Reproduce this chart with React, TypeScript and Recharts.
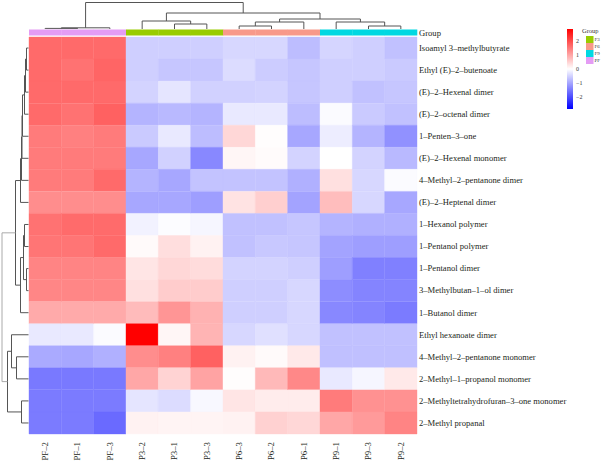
import React from 'react';
import { BarChart, Bar, XAxis, YAxis, Cell } from 'recharts';

const compounds = [
  'Isoamyl 3–methylbutyrate',
  'Ethyl (E)–2–butenoate',
  '(E)–2–Hexenal dimer',
  '(E)–2–octenal dimer',
  '1–Penten–3–one',
  '(E)–2–Hexenal monomer',
  '4–Methyl–2–pentanone dimer',
  '(E)–2–Heptenal dimer',
  '1–Hexanol polymer',
  '1–Pentanol polymer',
  '1–Pentanol dimer',
  '3–Methylbutan–1–ol dimer',
  '1–Butanol dimer',
  'Ethyl hexanoate dimer',
  '4–Methyl–2–pentanone monomer',
  '2–Methyl–1–propanol monomer',
  '2–Methyltetrahydrofuran–3–one monomer',
  '2–Methyl propanal',
];

const samples = ['PF–2', 'PF–1', 'PF–3', 'P3–2', 'P3–1', 'P3–3', 'P6–3', 'P6–2', 'P6–1', 'P9–1', 'P9–3', 'P9–2'];
const sampleGroups = ['PF', 'PF', 'PF', 'F3', 'F3', 'F3', 'F6', 'F6', 'F6', 'F9', 'F9', 'F9'];
const groupNames = ['F3', 'F6', 'F9', 'PF'];
const groupColors: Record<string, string> = { F3: '#99cc00', F6: '#f8998a', F9: '#00d8e2', PF: '#e49cf4' };
const legendTicks = [2, 1, 0, -1, -2];
const colorLimit = 2.9;

// z-scores, rows = compounds, columns = samples
const zScores: number[][] = [
  [1.7, 1.7, 1.7, -0.55, -0.55, -0.55, -0.45, -0.45, -0.75, -0.48, -0.55, -0.7],
  [1.7, 1.6, 1.75, -0.55, -0.65, -0.65, -0.4, -0.58, -0.65, -0.55, -0.55, -0.6],
  [1.7, 1.7, 1.7, -0.5, -0.3, -0.52, -0.52, -0.5, -0.65, -0.55, -0.7, -0.65],
  [1.7, 1.6, 1.8, -0.85, -0.8, -0.85, -0.25, -0.25, -0.75, -0.05, -0.6, -0.7],
  [1.5, 1.45, 1.5, -0.6, -0.25, -0.75, 0.45, 0.02, -1.0, -0.2, -0.85, -1.25],
  [1.5, 1.5, 1.5, -1.0, -0.52, -1.35, 0.1, 0.05, -0.5, 0.0, -0.5, -0.8],
  [1.5, 1.5, 1.7, -0.85, -1.0, -0.68, -0.68, -0.68, -0.9, 0.35, -0.45, -0.05],
  [1.3, 1.3, 1.3, -1.0, -1.0, -1.1, 0.32, 0.55, -1.05, 0.75, -0.45, -1.0],
  [1.6, 1.68, 1.68, -0.15, -0.03, -0.1, -0.7, -0.7, -0.65, -0.85, -0.9, -0.9],
  [1.57, 1.57, 1.7, 0.06, 0.37, 0.15, -0.7, -0.62, -0.65, -1.05, -1.1, -1.1],
  [1.4, 1.4, 1.4, 0.3, 0.45, 0.4, -0.5, -0.5, -0.55, -1.1, -1.45, -1.45],
  [1.38, 1.38, 1.38, 0.35, 0.58, 0.58, -0.55, -0.55, -0.45, -1.3, -1.4, -1.4],
  [0.97, 0.97, 0.97, 0.77, 1.2, 0.88, -0.55, -0.55, -0.45, -1.35, -1.4, -1.5],
  [-0.25, -0.25, -0.05, 2.9, 0.1, 0.85, -0.45, -0.35, -0.45, -0.7, -0.7, -0.7],
  [-0.97, -1.0, -0.9, 1.3, 1.45, 1.8, 0.15, 0.06, 0.25, -0.72, -0.72, -0.72],
  [-1.52, -1.52, -1.52, 1.0, 0.5, 1.05, 0.02, 0.8, 1.35, -0.25, -0.1, 0.25],
  [-1.5, -1.5, -1.5, -0.3, -0.4, -0.08, 0.3, 0.22, 0.22, 1.5, 1.25, 1.25],
  [-1.5, -1.5, -1.7, 0.15, 0.12, 0.12, 0.15, 0.52, 0.45, 1.0, 1.15, 1.4],
];

// hclust-style merges: negative = leaf (1-based), positive = earlier merge (1-based); third = height
const colMerges: [number, number, number][] = [
  [-1, -2, 0.6], [1, -3, 1.2], [-5, -6, 5], [-4, 3, 8], [-7, -8, 3], [5, -9, 7],
  [-11, -12, 3], [-10, 7, 7], [6, 8, 10], [4, 9, 16], [2, 10, 26.5],
];
const rowMerges: [number, number, number][] = [
  [-1, -2, 2], [1, -3, 3], [2, -4, 4], [3, -5, 6], [4, -6, 6.5], [5, -7, 7], [6, -8, 8],
  [-9, -10, 4], [-11, -12, 2], [8, 9, 5], [10, -13, 8], [7, 11, 13],
  [-15, -16, 12], [-14, 13, 17], [-17, -18, 7], [14, 15, 21], [12, 16, 26.5],
];

const FONT = '"Liberation Serif", "DejaVu Serif", serif';
const W = 602;
const H = 461;
const M = { top: 37, left: 29, right: 0, bottom: 0 };
const Y_AXIS_W = 185;
const X_AXIS_H = 27;
const plotW = W - M.left - M.right - Y_AXIS_W;
const plotH = H - M.top - M.bottom - X_AXIS_H;
const cellW = plotW / samples.length;
const cellH = plotH / compounds.length;

function zColor(v: number): string {
  const t = Math.min(Math.abs(v) / colorLimit, 1);
  const c = Math.round(255 * (1 - t));
  return v >= 0 ? `rgb(255,${c},${c})` : `rgb(${c},${c},255)`;
}

const rows = compounds.map((name) => {
  const o: Record<string, any> = { name };
  samples.forEach((_, i) => (o['c' + i] = 1));
  return o;
});

function dendroSegments(merges: [number, number, number][], leafPos: (i: number) => number) {
  const pos: number[] = [];
  const hts: number[] = [];
  const segs: { p1: number; h1: number; p2: number; h2: number }[] = [];
  const get = (k: number) => (k < 0 ? { p: leafPos(-k - 1), h: 0 } : { p: pos[k - 1], h: hts[k - 1] });
  merges.forEach(([a, b, h]) => {
    const A = get(a);
    const B = get(b);
    segs.push({ p1: A.p, h1: A.h, p2: A.p, h2: h });
    segs.push({ p1: A.p, h1: h, p2: B.p, h2: h });
    segs.push({ p1: B.p, h1: B.h, p2: B.p, h2: h });
    pos.push((A.p + B.p) / 2);
    hts.push(h);
  });
  return segs;
}

const RowTick = (props: any) => {
  const { x, y, payload } = props;
  return (
    <text x={x} y={y} dy="0.33em" textAnchor="start" fontSize={8.6} fontFamily={FONT} fill="#231f20">
      {payload.value}
    </text>
  );
};

const ColTick = (props: any) => {
  const { x, y, payload } = props;
  const label = samples[Math.floor(payload.value)];
  return (
    <text x={x} y={y} dy="0.33em" textAnchor="end" transform={`rotate(-90 ${x} ${y})`} fontSize={8.8} fontFamily={FONT} fill="#231f20">
      {label}
    </text>
  );
};

export default function App() {
  const topBase = 29;
  const leftBase = 28.5;
  const colSegs = dendroSegments(colMerges, (i) => M.left + cellW * (i + 0.5));
  const rowSegs = dendroSegments(rowMerges, (i) => M.top + cellH * (i + 0.5));
  const legX = 567;
  const legTop = 29;
  const legH = 80;
  const legY = (v: number) => legTop + ((colorLimit - v) / (2 * colorLimit)) * legH;

  return (
    <div style={{ position: 'absolute', left: 0, top: 0, width: W, height: H, background: '#fff' }}>
      <div style={{ position: 'absolute', left: 0, top: 0 }}>
        <BarChart
          width={W}
          height={H}
          data={rows}
          layout="vertical"
          margin={M}
          barCategoryGap={0}
          barGap={0}
        >
          <XAxis
            type="number"
            domain={[0, samples.length]}
            ticks={samples.map((_, i) => i + 0.5)}
            interval={0}
            height={X_AXIS_H}
            axisLine={false}
            tickLine={false}
            tickSize={0}
            tickMargin={8}
            tick={<ColTick />}
          />
          <YAxis
            type="category"
            dataKey="name"
            orientation="right"
            width={Y_AXIS_W}
            interval={0}
            axisLine={false}
            tickLine={false}
            tickSize={0}
            tickMargin={2}
            tick={<RowTick />}
          />
          {samples.map((s, i) => (
            <Bar key={s} dataKey={'c' + i} stackId="heat" isAnimationActive={false}>
              {rows.map((_, r) => (
                <Cell key={r} fill={zColor(zScores[r][i])} stroke={zColor(zScores[r][i])} strokeWidth={0.4} />
              ))}
            </Bar>
          ))}
        </BarChart>
      </div>
      <svg width={W} height={H} style={{ position: 'absolute', left: 0, top: 0, pointerEvents: 'none' }}>
        <defs>
          <linearGradient id="zgrad" x1="0" y1="0" x2="0" y2="1">
            <stop offset="0" stopColor="#ff0000" />
            <stop offset="0.5" stopColor="#ffffff" />
            <stop offset="1" stopColor="#0000ff" />
          </linearGradient>
        </defs>
        {/* group annotation bar */}
        {samples.map((s, i) => (
          <rect key={s} x={M.left + cellW * i} y={29.5} width={cellW + 0.3} height={6} fill={groupColors[sampleGroups[i]]} />
        ))}
        <text x={419} y={33} dy="0.33em" fontSize={8.6} fontFamily={FONT} fill="#231f20">Group</text>
        {/* column dendrogram */}
        {colSegs.map((s, k) => (
          <line key={'c' + k} x1={s.p1} y1={topBase - s.h1} x2={s.p2} y2={topBase - s.h2} stroke="#555" strokeWidth={1} />
        ))}
        {/* row dendrogram */}
        {rowSegs.map((s, k) => (
          <line key={'r' + k} x1={leftBase - s.h1} y1={s.p1} x2={leftBase - s.h2} y2={s.p2} stroke={k >= rowSegs.length - 3 ? '#aaa' : '#555'} strokeWidth={1} />
        ))}
        {/* colour legend */}
        <rect x={legX} y={legTop} width={6} height={legH} fill="url(#zgrad)" />
        {legendTicks.map((t) => (
          <text key={t} x={legX + 9} y={legY(t)} dy="0.33em" fontSize={6} fontFamily={FONT} fill="#333">
            {t < 0 ? '−' + Math.abs(t) : String(t)}
          </text>
        ))}
        {/* group legend */}
        <text x={582} y={31} dy="0.33em" fontSize={6.5} fontFamily={FONT} fill="#333">Group</text>
        {groupNames.map((g, i) => (
          <g key={g}>
            <rect x={586} y={36 + i * 7} width={7.5} height={7} fill={groupColors[g]} />
            <text x={594.5} y={39.5 + i * 7} dy="0.33em" fontSize={5} fontFamily={FONT} fill="#333">{g}</text>
          </g>
        ))}
      </svg>
    </div>
  );
}
